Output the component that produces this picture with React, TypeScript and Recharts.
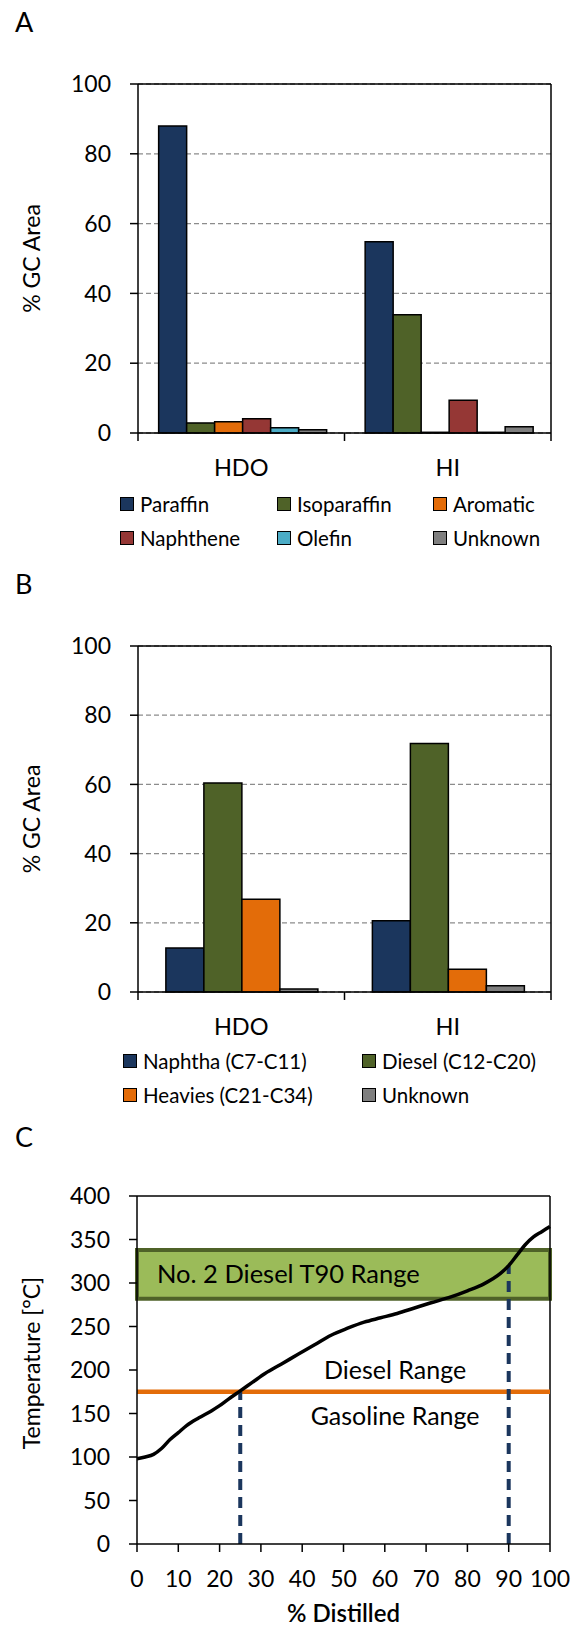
import React from 'react'
import {
  BarChart,
  Bar,
  LineChart,
  Line,
  XAxis,
  YAxis,
  CartesianGrid,
  ReferenceLine,
  ReferenceArea,
  ReferenceDot,
} from 'recharts'

// ─── Data ─────────────────────────────────────────────────────────────────────

const GROUPS = ['HDO', 'HI']
const PCT_TICKS = [0, 20, 40, 60, 80, 100]

// Panel A — hydrocarbon class
const CLASS_NAMES = ['Paraffin', 'Isoparaffin', 'Aromatic', 'Naphthene', 'Olefin', 'Unknown']
const PARAFFIN = [88.0, 54.8]
const ISOPARAFFIN = [2.9, 33.9]
const AROMATIC = [3.2, 0.2]
const NAPHTHENE = [4.1, 9.4]
const OLEFIN = [1.5, 0.2]
const UNKNOWN_A = [0.9, 1.8]

// Panel B — carbon number range
const CUT_NAMES = ['Naphtha (C7-C11)', 'Diesel (C12-C20)', 'Heavies (C21-C34)', 'Unknown']
const NAPHTHA = [12.7, 20.6]
const DIESEL = [60.4, 71.8]
const HEAVIES = [26.8, 6.6]
const UNKNOWN_B = [0.9, 1.8]

// Panel C — simulated distillation
const DISTILLED = [0, 2, 4, 6, 8, 10, 12, 15, 18, 20, 22, 25, 28, 31, 35, 39, 43, 47, 51, 55, 59, 63, 67, 71, 76, 80, 84, 88, 90, 92, 94, 96, 98, 100]
const TEMPERATURE = [98, 100, 103, 110, 120, 128, 136, 145, 153, 159, 166, 176, 186, 196, 207, 218, 229, 240, 248, 255, 260, 265, 271, 277, 284, 291, 299, 311, 320, 332, 344, 353, 359, 365]
const DIST_TICKS = [0, 10, 20, 30, 40, 50, 60, 70, 80, 90, 100]
const TEMP_TICKS = [0, 50, 100, 150, 200, 250, 300, 350, 400]
const T90_RANGE = [282, 338]
const GASOLINE_CUT = 175
const CUT_POINTS = [25, 90]
const CUT_TEMPS = [175, 320]

// ─── Style ────────────────────────────────────────────────────────────────────

const FONT = 'Lato, "Noto Sans", sans-serif'
const NAVY = '#1b365d'
const OLIVE = '#4f6228'
const ORANGE = '#e36c09'
const COLORS_A = [NAVY, OLIVE, ORANGE, '#953735', '#4bacc6', '#7f7f7f']
const COLORS_B = [NAVY, OLIVE, ORANGE, '#7f7f7f']

const tickStyle = { fontSize: 23, fill: '#000', fontFamily: FONT }
const axisLine = { stroke: '#000', strokeWidth: 1.5 }

// tick marks below the category axis sit on the group boundaries (~8px deep)
const BOUNDARY_TICK = -2.3

const sideLabel = (text: string, shift = 0) => (props: any) => {
  const vb = props.viewBox
  const cx = vb.x + 31
  const cy = vb.y + vb.height / 2 + shift
  return (
    <text
      x={cx}
      y={cy}
      transform={`rotate(-90 ${cx} ${cy})`}
      textAnchor="middle"
      dominantBaseline="central"
      fontSize={23}
      fontFamily={FONT}
      fill="#000"
    >
      {text}
    </text>
  )
}

// ─── Pieces ───────────────────────────────────────────────────────────────────

function PanelTitle({ text, top }: { text: string; top: number }) {
  return (
    <div style={{ position: 'absolute', left: 15, top, fontSize: 27, lineHeight: 1, color: '#000' }}>
      {text}
    </div>
  )
}

interface LegendProps {
  names: string[]
  colors: string[]
  cols: number[]
  rows: number[]
}

function BoxLegend({ names, colors, cols, rows }: LegendProps) {
  return (
    <>
      {names.map((name, i) => (
        <div
          key={name}
          style={{
            position: 'absolute',
            left: cols[i % cols.length],
            top: rows[Math.floor(i / cols.length)] - 12,
            height: 24,
            display: 'flex',
            alignItems: 'center',
            gap: 6,
            fontSize: 20.5,
            whiteSpace: 'nowrap',
          }}
        >
          <span
            style={{
              width: 14,
              height: 14,
              boxSizing: 'border-box',
              border: '1.5px solid #000',
              background: colors[i],
            }}
          />
          <span>{name}</span>
        </div>
      ))}
    </>
  )
}

interface BarPanelProps {
  top: number
  plotTop: number
  axisHeight: number
  names: string[]
  values: number[][]
  colors: string[]
  gap: string
}

function BarPanel({ top, plotTop, axisHeight, names, values, colors, gap }: BarPanelProps) {
  const data = GROUPS.map((group, i) => {
    const row: Record<string, string | number> = { group }
    names.forEach((_, k) => (row[`s${k}`] = values[k][i]))
    return row
  })

  // group boundaries: start of every band plus the end of the last one
  const edges = [
    ...GROUPS.map((g) => ({ g, pos: 'start' as const })),
    { g: GROUPS[GROUPS.length - 1], pos: 'end' as const },
  ]

  return (
    <div style={{ position: 'absolute', left: 0, top }}>
      <BarChart
        width={576}
        height={520}
        data={data}
        margin={{ top: plotTop, right: 25, left: 0, bottom: 0 }}
        barCategoryGap={gap}
        barGap={0}
      >
        <CartesianGrid vertical={false} stroke="#8c8c8c" strokeWidth={1.3} strokeDasharray="5 3" />
        <XAxis
          dataKey="group"
          type="category"
          height={axisHeight}
          axisLine={axisLine}
          tickLine={false}
          tickSize={8}
          tickMargin={18}
          interval={0}
          tick={{ ...tickStyle, fontSize: 23.5 }}
        />
        <YAxis
          type="number"
          domain={[0, 100]}
          ticks={PCT_TICKS}
          width={138}
          tickSize={8}
          tickMargin={19}
          tick={tickStyle}
          axisLine={axisLine}
          tickLine={axisLine}
          label={sideLabel('% GC Area')}
        />
        <ReferenceLine y={100} stroke="#000" strokeWidth={1.5} />
        <ReferenceLine x={GROUPS[GROUPS.length - 1]} position="end" stroke="#000" strokeWidth={1.5} />
        {edges.map(({ g, pos }) => (
          <ReferenceLine
            key={`${g}-${pos}`}
            segment={[{ x: g, y: 0 }, { x: g, y: BOUNDARY_TICK }]}
            position={pos}
            ifOverflow="visible"
            stroke="#000"
            strokeWidth={1.5}
          />
        ))}
        {names.map((name, k) => (
          <Bar
            key={name}
            dataKey={`s${k}`}
            name={name}
            fill={colors[k]}
            stroke="#000"
            strokeWidth={1.5}
            isAnimationActive={false}
          />
        ))}
      </BarChart>
    </div>
  )
}

function DistillationPanel() {
  const data = DISTILLED.map((x, i) => ({ x, t: TEMPERATURE[i] }))
  const rangeLabel = { fontSize: 25, fill: '#000', fontFamily: FONT }

  return (
    <div style={{ position: 'absolute', left: 0, top: 1120 }}>
      <LineChart width={576} height={510} data={data} margin={{ top: 76, right: 26, left: 0, bottom: 0 }}>
        <XAxis
          dataKey="x"
          type="number"
          domain={[0, 100]}
          ticks={DIST_TICKS}
          height={86}
          tickSize={8}
          tickMargin={19}
          tick={tickStyle}
          axisLine={axisLine}
          tickLine={axisLine}
          label={(props: any) => {
            const vb = props.viewBox
            return (
              <text
                x={vb.x + vb.width / 2}
                y={vb.y + 78}
                textAnchor="middle"
                fontSize={24}
                fontWeight={600}
                fontFamily={FONT}
                fill="#000"
              >
                % Distilled
              </text>
            )
          }}
        />
        <YAxis
          type="number"
          domain={[0, 400]}
          ticks={TEMP_TICKS}
          width={137}
          tickSize={8}
          tickMargin={19}
          tick={tickStyle}
          axisLine={axisLine}
          tickLine={axisLine}
          label={sideLabel('Temperature [°C]', -7)}
        />
        <ReferenceLine y={400} stroke="#000" strokeWidth={1.5} />
        <ReferenceLine x={100} stroke="#000" strokeWidth={1.5} />
        <ReferenceArea
          x1={0}
          x2={100}
          y1={T90_RANGE[0]}
          y2={T90_RANGE[1]}
          fill="#9bbb59"
          fillOpacity={1}
          stroke={OLIVE}
          strokeWidth={4}
          label={{ value: 'No. 2 Diesel T90 Range', position: 'insideLeft', offset: 20, ...rangeLabel, fontSize: 25.5 }}
        />
        <ReferenceLine y={GASOLINE_CUT} stroke={ORANGE} strokeWidth={4.5} />
        {CUT_POINTS.map((x, i) => (
          <ReferenceLine
            key={x}
            segment={[{ x, y: 0 }, { x, y: CUT_TEMPS[i] }]}
            stroke={NAVY}
            strokeWidth={4}
            strokeDasharray="11 7"
          />
        ))}
        <ReferenceDot x={62.5} y={200} r={0} fill="none" stroke="none" label={{ value: 'Diesel Range', position: 'center', ...rangeLabel }} />
        <ReferenceDot x={62.5} y={147.5} r={0} fill="none" stroke="none" label={{ value: 'Gasoline Range', position: 'center', ...rangeLabel }} />
        <Line
          type="monotone"
          dataKey="t"
          stroke="#000"
          strokeWidth={3.5}
          dot={false}
          isAnimationActive={false}
        />
      </LineChart>
    </div>
  )
}

// ─── App ──────────────────────────────────────────────────────────────────────

export default function App() {
  return (
    <div
      style={{
        position: 'absolute',
        left: 0,
        top: 0,
        width: 576,
        height: 1630,
        background: '#fff',
        fontFamily: FONT,
        color: '#000',
        overflow: 'hidden',
      }}
    >
      <PanelTitle text="A" top={8} />
      <BarPanel
        top={0}
        plotTop={84}
        axisHeight={87}
        names={CLASS_NAMES}
        values={[PARAFFIN, ISOPARAFFIN, AROMATIC, NAPHTHENE, OLEFIN, UNKNOWN_A]}
        colors={COLORS_A}
        gap="10%"
      />
      <BoxLegend names={CLASS_NAMES} colors={COLORS_A} cols={[120, 277, 433]} rows={[504, 538]} />

      <PanelTitle text="B" top={570} />
      <BarPanel
        top={560}
        plotTop={86}
        axisHeight={88}
        names={CUT_NAMES}
        values={[NAPHTHA, DIESEL, HEAVIES, UNKNOWN_B]}
        colors={COLORS_B}
        gap="13.5%"
      />
      <BoxLegend names={CUT_NAMES} colors={COLORS_B} cols={[123, 362]} rows={[1061, 1095]} />

      <PanelTitle text="C" top={1123} />
      <DistillationPanel />
    </div>
  )
}
